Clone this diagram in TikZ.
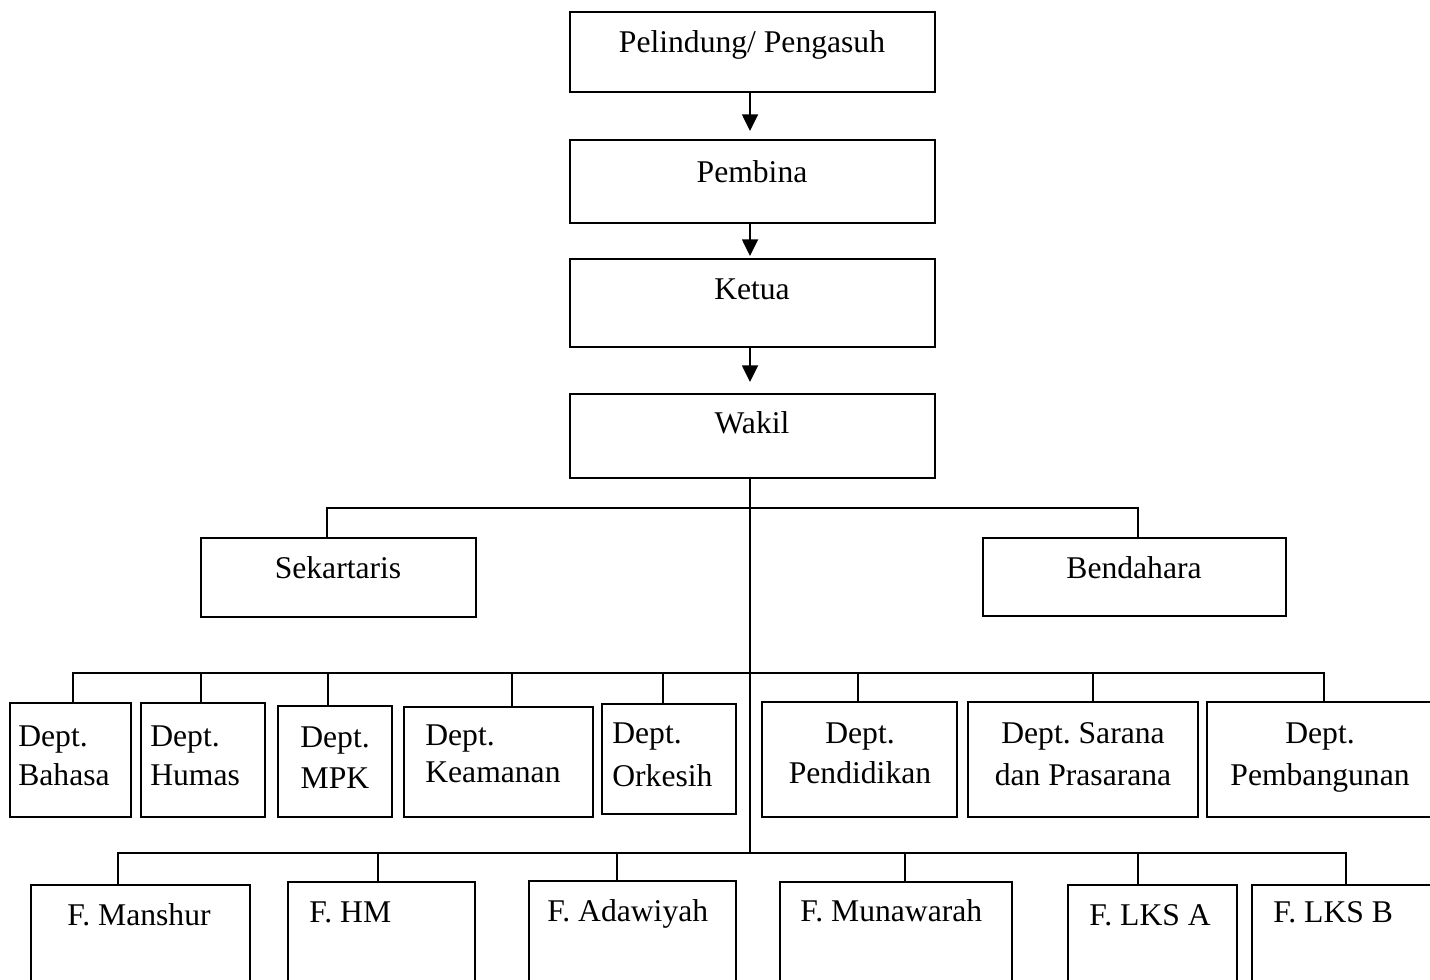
\documentclass[tikz,border=0pt]{standalone}
\usepackage{fontspec}
\setmainfont{Liberation Serif}
\usetikzlibrary{fit,arrows.meta}
\begin{document}
\frenchspacing
\begin{tikzpicture}[x=0.02cm,y=-0.02cm,
  box/.style={draw, line width=1.2pt, inner sep=0pt, fit={#1}},
  t/.style={inner sep=0pt, font=\fontsize{18}{22}\selectfont\frenchspacing},
  con/.style={line width=1.2pt},
  arr/.style={line width=1.4pt, -{Triangle[width=9pt,length=9.5pt]}}]
\useasboundingbox (0,0) rectangle (1430,980);
\clip (0,0) rectangle (1430,980);
\fill[white] (0,0) rectangle (1430,980);
% top chain
\node[box={(570,12) (935,92)}] (pel) {};
\node[t,anchor=base] (tpel) at (752,53) {Pelindung/ Pengasuh};
\node[box={(570,140) (935,223)}] (pem) {};
\node[t,anchor=base] (tpem) at (752,182) {Pembina};
\node[box={(570,259) (935,347)}] (ket) {};
\node[t,anchor=base] (tket) at (752,299) {Ketua};
\node[box={(570,394) (935,478)}] (wak) {};
\node[t,anchor=base] (twak) at (752,433) {Wakil};
\coordinate (tx) at (750,0);
\draw[arr,shorten >=0.16cm] (pel.south -| tx) -- (pem.north -| tx);
\draw[arr,shorten >=0.04cm] (pem.south -| tx) -- (ket.north -| tx);
\draw[arr,shorten >=0.22cm] (ket.south -| tx) -- (wak.north -| tx);
% sekretaris / bendahara
\node[box={(201,538) (476,617)}] (sek) {};
\node[t,anchor=base] (tsek) at (338,578) {Sekartaris};
\node[box={(983,538) (1286,616)}] (ben) {};
\node[t,anchor=base] (tben) at (1134,578) {Bendahara};
\coordinate (sa) at (327,508);
\coordinate (sb) at (1138,508);
\draw[con] (sa |- sek.north) -- (sa) -- (sb) -- (sb |- ben.north);
% departments
\node[box={(10,703) (131,817)}] (b1) {};
\node[t,anchor=base west] (b1a) at (18,746) {Dept.};
\node[t,anchor=base west] (b1b) at (18,785) {Bahasa};
\node[box={(141,703) (265,817)}] (b2) {};
\node[t,anchor=base west] (b2a) at (150,746) {Dept.};
\node[t,anchor=base west] (b2b) at (150,785) {Humas};
\node[box={(278,706) (392,817)}] (b3) {};
\node[t,anchor=base] (b3a) at (335,747) {Dept.};
\node[t,anchor=base] (b3b) at (335,788) {MPK};
\node[box={(404,707) (593,817)}] (b4) {};
\node[t,anchor=base west] (b4a) at (425,745) {Dept.};
\node[t,anchor=base west] (b4b) at (425,782) {Keamanan};
\node[box={(602,704) (736,814)}] (b5) {};
\node[t,anchor=base west] (b5a) at (612,743) {Dept.};
\node[t,anchor=base west] (b5b) at (612,786) {Orkesih};
\node[box={(762,702) (957,817)}] (b6) {};
\node[t,anchor=base] (b6a) at (860,743) {Dept.};
\node[t,anchor=base] (b6b) at (860,783) {Pendidikan};
\node[box={(968,702) (1198,817)}] (b7) {};
\node[t,anchor=base] (b7a) at (1083,743) {Dept. Sarana};
\node[t,anchor=base] (b7b) at (1083,785) {dan Prasarana};
\node[box={(1207,702) (1470,817)}] (b8) {};
\node[t,anchor=base] (b8a) at (1320,743) {Dept.};
\node[t,anchor=base] (b8b) at (1320,785) {Pembangunan};
\coordinate (d1) at (73,673);
\coordinate (d2) at (201,673);
\coordinate (d3) at (328,673);
\coordinate (d4) at (512,673);
\coordinate (d5) at (663,673);
\coordinate (d6) at (858,673);
\coordinate (d7) at (1093,673);
\coordinate (d8) at (1324,673);
\draw[con] (d1 |- b1.north) -- (d1) -- (d8) -- (d8 |- b8.north);
\draw[con] (d2) -- (d2 |- b2.north);
\draw[con] (d3) -- (d3 |- b3.north);
\draw[con] (d4) -- (d4 |- b4.north);
\draw[con] (d5) -- (d5 |- b5.north);
\draw[con] (d6) -- (d6 |- b6.north);
\draw[con] (d7) -- (d7 |- b7.north);
% bottom row
\node[box={(31,885) (250,1010)}] (f1) {};
\node[t,anchor=base west] (tf1) at (67,925) {F. Manshur};
\node[box={(288,882) (475,1010)}] (f2) {};
\node[t,anchor=base west] (tf2) at (309,922) {F. HM};
\node[box={(529,881) (736,1010)}] (f3) {};
\node[t,anchor=base west] (tf3) at (547,921) {F. Adawiyah};
\node[box={(780,882) (1012,1010)}] (f4) {};
\node[t,anchor=base west] (tf4) at (800,921) {F. Munawarah};
\node[box={(1068,885) (1237,1010)}] (f5) {};
\node[t,anchor=base west] (tf5) at (1089,925) {F. LKS A};
\node[box={(1252,885) (1470,1010)}] (f6) {};
\node[t,anchor=base west] (tf6) at (1273,922) {F. LKS B};
\coordinate (g1) at (118,853);
\coordinate (g2) at (378,853);
\coordinate (g3) at (617,853);
\coordinate (g4) at (905,853);
\coordinate (g5) at (1138,853);
\coordinate (g6) at (1346,853);
\draw[con] (g1 |- f1.north) -- (g1) -- (g6) -- (g6 |- f6.north);
\draw[con] (g2) -- (g2 |- f2.north);
\draw[con] (g3) -- (g3 |- f3.north);
\draw[con] (g4) -- (g4 |- f4.north);
\draw[con] (g5) -- (g5 |- f5.north);
% trunk
\coordinate (gt) at (750,853);
\draw[con] (wak.south -| tx) -- (gt);
\end{tikzpicture}
\end{document}
